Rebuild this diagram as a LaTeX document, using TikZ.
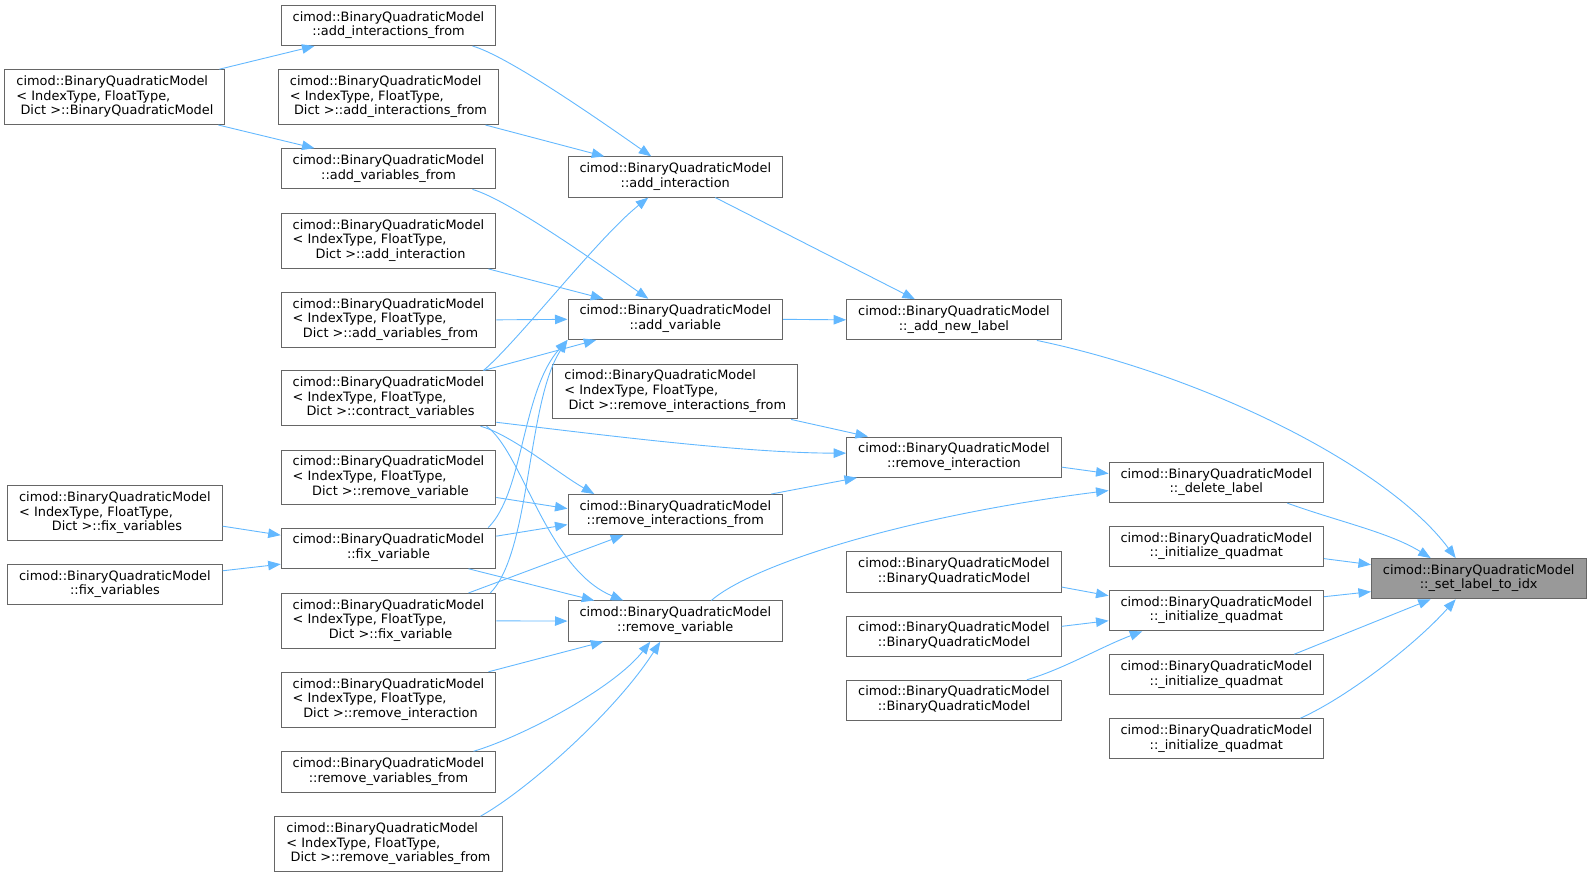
\documentclass[tikz,border=0pt]{standalone}
\usepackage{fontspec}
\setmainfont{DejaVu Sans}
\usetikzlibrary{arrows.meta}
\definecolor{edgeblue}{HTML}{63B8FF}
\definecolor{boxgray}{HTML}{666666}
\definecolor{rootgray}{HTML}{999999}
\newcommand{\bqm}{cimod::BinaryQuadraticModel}
\newcommand{\fnname}[1]{\begin{tabular}{@{}c@{}}\bqm\\#1\end{tabular}}
\newcommand{\tmplname}[1]{\begin{tabular}{@{}l@{}}\bqm\\< IndexType, FloatType,\\\multicolumn{1}{@{}c@{}}{\ Dict >::#1}\end{tabular}}
\begin{document}
\begin{tikzpicture}[x=1.017pt,y=-1.017pt,
    func/.style={draw=boxgray,line width=1pt,fill=white,inner xsep=11.5pt,inner ysep=5.5pt,
      font=\fontsize{12.9}{14.6}\selectfont},
    funcroot/.style={func,fill=rootgray},
    calls/.style={draw=edgeblue,line width=0.9pt,-{Triangle[length=12.5pt,width=9.5pt]}}]
    \useasboundingbox (0,0) rectangle (1565.4,862.3);
    \node[func] (bqmT) at (113,95.5) {\tmplname{BinaryQuadraticModel}};
    \node[func] (fixvarsT) at (113,504.6) {\tmplname{fix\_variables}};
    \node[func] (fixvars) at (113,575) {\fnname{::fix\_variables}};
    \node[func] (addIntsFrom) at (382,25) {\fnname{::add\_interactions\_from}};
    \node[func] (addIntsFromT) at (382,95.5) {\tmplname{add\_interactions\_from}};
    \node[func] (addVarsFrom) at (382,166) {\fnname{::add\_variables\_from}};
    \node[func] (addIntT) at (382,237) {\tmplname{add\_interaction}};
    \node[func] (addVarsFromT) at (382,314.5) {\tmplname{add\_variables\_from}};
    \node[func] (contractT) at (382,391.7) {\tmplname{contract\_variables}};
    \node[func] (rmVarT) at (382,469.5) {\tmplname{remove\_variable}};
    \node[func] (fixVar) at (382,539) {\fnname{::fix\_variable}};
    \node[func] (fixVarT) at (382,610.5) {\tmplname{fix\_variable}};
    \node[func] (rmIntT) at (382,688) {\tmplname{remove\_interaction}};
    \node[func] (rmVarsFrom) at (382,759) {\fnname{::remove\_variables\_from}};
    \node[func] (rmVarsFromT) at (382,830) {\tmplname{remove\_variables\_from}};
    \node[func] (addInt) at (664,174) {\fnname{::add\_interaction}};
    \node[func] (addVar) at (664,314) {\fnname{::add\_variable}};
    \node[func] (rmIntsFromT) at (664,385) {\tmplname{remove\_interactions\_from}};
    \node[func] (rmIntsFrom) at (664,506) {\fnname{::remove\_interactions\_from}};
    \node[func] (rmVar) at (664,610.7) {\fnname{::remove\_variable}};
    \node[func] (addNewLabel) at (938,314.5) {\fnname{::\_add\_new\_label}};
    \node[func] (rmInt) at (938,449.5) {\fnname{::remove\_interaction}};
    \node[func] (ctorA) at (938,562.5) {\fnname{::BinaryQuadraticModel}};
    \node[func] (ctorB) at (938,625.7) {\fnname{::BinaryQuadraticModel}};
    \node[func] (ctorC) at (938,688.6) {\fnname{::BinaryQuadraticModel}};
    \node[func] (delLabel) at (1196,474.5) {\fnname{::\_delete\_label}};
    \node[func] (initA) at (1196,537.5) {\fnname{::\_initialize\_quadmat}};
    \node[func] (initB) at (1196,600.5) {\fnname{::\_initialize\_quadmat}};
    \node[func] (initC) at (1196,663.5) {\fnname{::\_initialize\_quadmat}};
    \node[func] (initD) at (1196,726.5) {\fnname{::\_initialize\_quadmat}};
    \node[funcroot] (setLabel) at (1454,569) {\fnname{::\_set\_label\_to\_idx}};

    \draw[calls] ([xshift=-6pt]bqmT.north east) -- ([xshift=-74pt]addIntsFrom.south);
    \draw[calls] ([xshift=-7pt]bqmT.south east) -- ([xshift=-74pt]addVarsFrom.north);
    \draw[calls] ([xshift=84pt]addIntsFrom.south) .. controls +(35,10) and +(-50,-35) .. ([xshift=-24pt]addInt.north);
    \draw[calls] ([xshift=97pt]addIntsFromT.south) -- ([xshift=-71pt]addInt.north);
    \draw[calls] ([xshift=84pt]addVarsFrom.south) .. controls +(35,10) and +(-50,-35) .. ([xshift=-27pt]addVar.north);
    \draw[calls] ([xshift=100pt]addIntT.south) -- ([xshift=-72pt]addVar.north);
    \draw[calls] (addVarsFromT.east) -- (addVar.west);
    \draw[calls] ([xshift=95pt]contractT.north) .. controls +(35,-30) and +(-50,40) .. ([xshift=-27pt]addInt.south);
    \draw[calls] ([xshift=95pt]contractT.north) -- ([xshift=-79pt]addVar.south);
    \draw[calls] ([yshift=4pt]contractT.south east) .. controls +(100,12) and +(-100,0) .. ([yshift=4pt]rmInt.west);
    \draw[calls] ([xshift=92pt]contractT.south) .. controls +(30,8) and +(-35,-20) .. ([xshift=-81pt]rmIntsFrom.north);
    \draw[calls] ([xshift=98pt]contractT.south) .. controls +(35,25) and +(-75,-31) .. ([xshift=-52pt]rmVar.north);
    \draw[calls] ([xshift=-8pt]fixVar.north east) .. controls +(35,-35) and +(-45,50) .. (addVar.south west);
    \draw[calls] ([xshift=-6pt]fixVarT.north east) .. controls +(40,-40) and +(-40,60) .. (addVar.south west);
    \draw[calls] ([yshift=-20pt]rmVarT.east) -- ([yshift=6pt]rmIntsFrom.west);
    \draw[calls] ([yshift=12pt]fixVar.east) -- ([yshift=-10pt]rmIntsFrom.west);
    \draw[calls] ([xshift=80pt]fixVarT.north) -- ([xshift=-52pt]rmIntsFrom.south);
    \draw[calls] ([xshift=80pt]fixVar.south) -- ([xshift=-81pt]rmVar.north);
    \draw[calls] (fixVarT.east) -- (rmVar.west);
    \draw[calls] ([xshift=100pt]rmIntT.north) -- ([xshift=-72pt]rmVar.south);
    \draw[calls] ([xshift=85pt]rmVarsFrom.north) .. controls +(50,-15) and +(-35,45) .. ([xshift=-25pt]rmVar.south);
    \draw[calls] ([xshift=92pt]rmVarsFromT.north) .. controls +(45,-25) and +(-45,70) .. ([xshift=-15pt]rmVar.south);
    \draw[calls] ([yshift=-13pt]fixvarsT.east) -- ([yshift=13pt]fixVar.west);
    \draw[calls] ([yshift=14pt]fixvars.east) -- ([yshift=-16pt]fixVar.west);
    \draw[calls] ([xshift=40pt]addInt.south) -- ([xshift=-39pt]addNewLabel.north);
    \draw[calls] (addVar.east) -- (addNewLabel.west);
    \draw[calls] ([xshift=-7pt]rmIntsFromT.south east) -- ([xshift=-86pt]rmInt.north);
    \draw[calls] ([xshift=96pt]rmIntsFrom.north) -- ([xshift=-97pt]rmInt.south);
    \draw[calls] ([yshift=-10pt]rmInt.east) -- ([yshift=9pt]delLabel.west);
    \draw[calls] ([xshift=36pt]rmVar.north) .. controls +(40,-35) and +(-200,25) .. ([yshift=-8pt]delLabel.west);
    \draw[calls] ([yshift=-15pt]ctorA.east) -- ([yshift=15pt]initB.west);
    \draw[calls] ([yshift=10pt]ctorB.east) -- ([yshift=-10pt]initB.west);
    \draw[calls] ([xshift=73pt]ctorC.north) .. controls +(35,-10) and +(-40,15) .. ([xshift=-74pt]initB.south);
    \draw[calls] ([xshift=83pt]addNewLabel.south) .. controls +(168,35) and +(-66,-89) .. ([xshift=-23pt]setLabel.north);
    \draw[calls] ([xshift=71pt]delLabel.south) .. controls +(50,18) and +(-40,-25) .. ([xshift=-48pt]setLabel.north);
    \draw[calls] ([yshift=-12pt]initA.east) -- ([yshift=14pt]setLabel.west);
    \draw[calls] ([yshift=14pt]initB.east) -- ([yshift=-13pt]setLabel.west);
    \draw[calls] ([xshift=78pt]initC.north) -- ([xshift=-48pt]setLabel.south);
    \draw[calls] ([xshift=84pt]initD.north) .. controls +(45,-20) and +(-40,45) .. ([xshift=-23pt]setLabel.south);
\end{tikzpicture}
\end{document}
